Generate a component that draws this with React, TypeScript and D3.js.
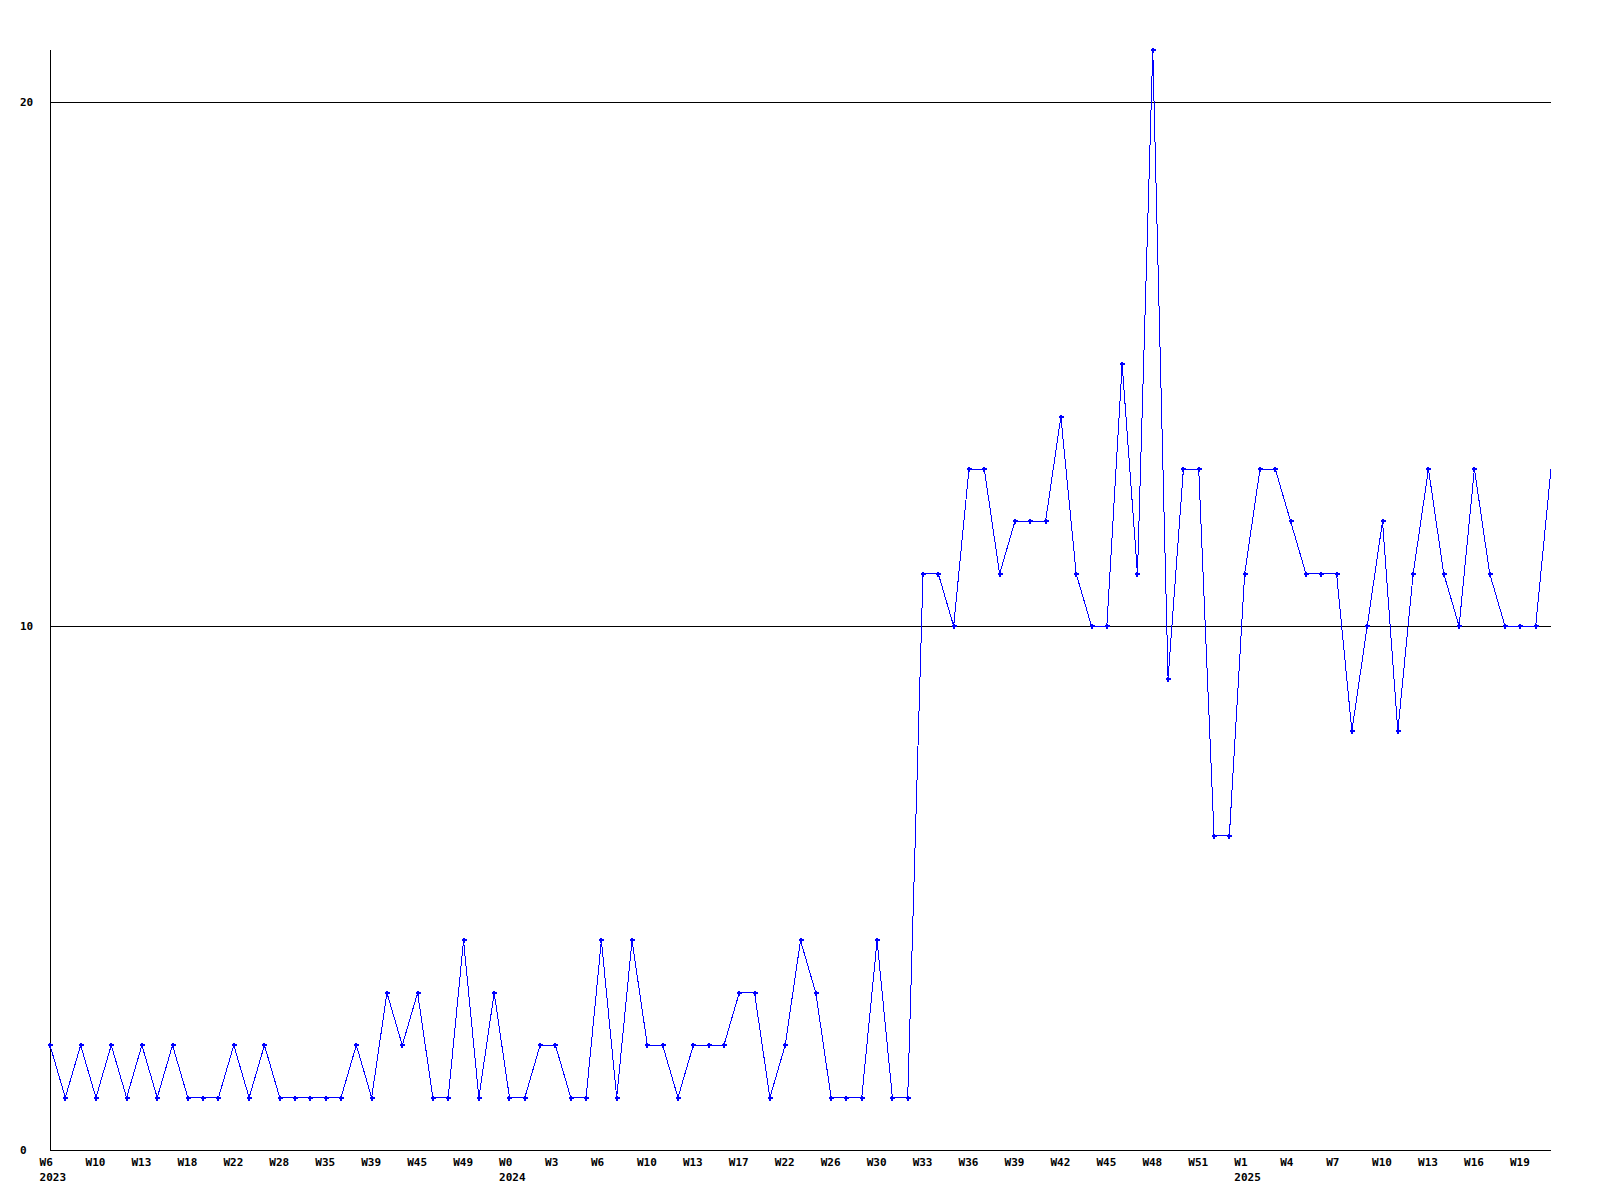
import React from "react";
import * as d3 from "d3";

const values: number[] = [
  2, 1, 2, 1, 2, 1, 2, 1, 2, 1,
  1, 1, 2, 1, 2, 1, 1, 1, 1, 1,
  2, 1, 3, 2, 3, 1, 1, 4, 1, 3,
  1, 1, 2, 2, 1, 1, 4, 1, 4, 2,
  2, 1, 2, 2, 2, 3, 3, 1, 2, 4,
  3, 1, 1, 1, 4, 1, 1, 11, 11, 10,
  13, 13, 11, 12, 12, 12, 14, 11, 10, 10,
  15, 11, 21, 9, 13, 13, 6, 6, 11, 13,
  13, 12, 11, 11, 11, 8, 10, 12, 8, 11,
  13, 11, 10, 13, 11, 10, 10, 10, 13,
];

const weekLabels: string[] = [
  "W6", "W10", "W13", "W18", "W22", "W28", "W35", "W39", "W45", "W49", "W0",
  "W3", "W6", "W10", "W13", "W17", "W22", "W26", "W30", "W33", "W36", "W39",
  "W42", "W45", "W48", "W51", "W1", "W4", "W7", "W10", "W13", "W16", "W19",
];
const labelEvery = 3;

const yearLabels: { index: number; label: string }[] = [
  { index: 0, label: "2023" },
  { index: 30, label: "2024" },
  { index: 78, label: "2025" },
];

const yTicks: number[] = [0, 10, 20];
const yMax = 21;

export default function App() {
  const left = 50;
  const right = 1551;
  const top = 50;
  const bottom = 1150;

  const x = d3.scaleLinear().domain([0, values.length - 1]).range([left, right]);
  const y = d3.scaleLinear().domain([0, yMax]).range([bottom, top]);

  const line = d3
    .line<number>()
    .x((_, i) => x(i))
    .y((d) => y(d));

  const font = "'DejaVu Sans Mono', monospace";

  return (
    <svg
      width={1600}
      height={1200}
      style={{ position: "absolute", left: 0, top: 0, background: "#fff" }}
    >
      <rect x={0} y={0} width={1600} height={1200} fill="#fff" />
      {yTicks
        .filter((t) => t > 0)
        .map((t) => (
          <line
            key={t}
            x1={left}
            x2={right}
            y1={Math.round(y(t)) + 0.5}
            y2={Math.round(y(t)) + 0.5}
            stroke="#000"
            strokeWidth={1}
            shapeRendering="crispEdges"
          />
        ))}
      <line x1={left + 0.5} x2={left + 0.5} y1={top} y2={bottom} stroke="#000" shapeRendering="crispEdges" />
      <line x1={left} x2={right} y1={bottom + 0.5} y2={bottom + 0.5} stroke="#000" shapeRendering="crispEdges" />
      {yTicks.map((t) => (
        <text
          key={t}
          x={20}
          y={Math.round(y(t)) + 4}
          fontFamily={font}
          fontWeight="bold"
          fontSize={11}
          fill="#000"
        >
          {t}
        </text>
      ))}
      {weekLabels.map((lab, k) => (
        <text
          key={k}
          x={x(k * labelEvery) - 10.4}
          y={1166}
          fontFamily={font}
          fontWeight="bold"
          fontSize={11}
          fill="#000"
        >
          {lab}
        </text>
      ))}
      {yearLabels.map((yl) => (
        <text
          key={yl.label}
          x={x(yl.index) - 10.4}
          y={1181}
          fontFamily={font}
          fontWeight="bold"
          fontSize={11}
          fill="#000"
        >
          {yl.label}
        </text>
      ))}
      <path
        d={line(values) || ""}
        fill="none"
        stroke="#0000ff"
        strokeWidth={1}
        shapeRendering="crispEdges"
      />
      {values.slice(0, values.length - 1).map((v, i) => {
        const cx = Math.round(x(i));
        const cy = Math.round(y(v));
        return (
          <g key={i} fill="#0000ff" shapeRendering="crispEdges">
            <rect x={cx - 2} y={cy - 1} width={5} height={2} />
            <rect x={cx - 1} y={cy - 2} width={2} height={5} />
          </g>
        );
      })}
    </svg>
  );
}
